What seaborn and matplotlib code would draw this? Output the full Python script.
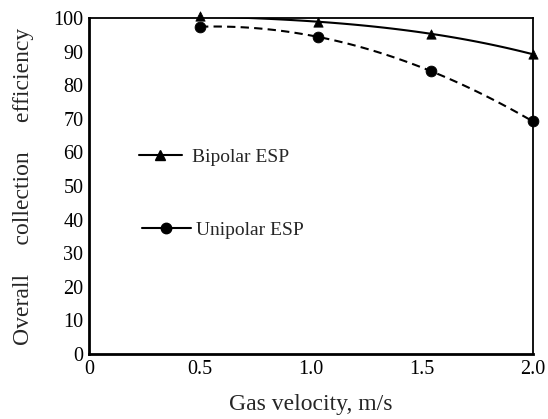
import matplotlib
matplotlib.use("Agg")
import matplotlib.pyplot as plt
import seaborn as sns
import pandas as pd
from matplotlib.lines import Line2D

velocity_bipolar = [0.5, 1.03, 1.54, 2.0]
eff_bipolar = [100.5, 98.9, 95.3, 89.2]
velocity_unipolar = [0.5, 1.03, 1.54, 2.0]
eff_unipolar = [97.4, 94.4, 84.2, 69.2]
x_ticks = [0, 0.5, 1.0, 1.5, 2.0]
x_tick_labels = ["0", "0.5", "1.0", "1.5", "2.0"]
y_ticks = [0, 10, 20, 30, 40, 50, 60, 70, 80, 90, 100]

sns.set_style("white")
plt.rcParams['font.family'] = ['Liberation Serif', 'DejaVu Serif']
plt.rcParams['mathtext.fontset'] = 'stix'

df_b = pd.DataFrame({"v": velocity_bipolar, "e": eff_bipolar})
df_u = pd.DataFrame({"v": velocity_unipolar, "e": eff_unipolar})

fig = plt.figure(figsize=(5.48, 4.19), dpi=100)
ax = fig.add_axes([89/548, 1-354/419, (533-89)/548, (354-18)/419])

sns.regplot(data=df_b, x="v", y="e", order=3, ci=None, scatter=False, ax=ax,
            line_kws=dict(color="black", lw=1.5, ls="-"))
sns.regplot(data=df_u, x="v", y="e", order=3, ci=None, scatter=False, ax=ax,
            line_kws=dict(color="black", lw=1.5, ls=(0, (4, 2.5))))
sns.scatterplot(data=df_b, x="v", y="e", marker="^", s=45, color="black",
                edgecolor="black", ax=ax, clip_on=False, zorder=5)
sns.scatterplot(data=df_u, x="v", y="e", marker="o", s=60, color="black",
                edgecolor="black", ax=ax, clip_on=False, zorder=5)

ax.set_xlim(0, 2.0)
ax.set_ylim(0, 100)
ax.set_xticks(x_ticks)
ax.set_xticklabels(x_tick_labels)
ax.set_yticks(y_ticks)
ax.tick_params(direction="in", length=7, width=1.5, labelsize=14.5, colors="black", pad=4)
for s in ["left", "bottom"]:
    ax.spines[s].set_linewidth(2)
for s in ["top", "right"]:
    ax.spines[s].set_linewidth(1.3)
for s in ax.spines.values():
    s.set_color("black")

ax.set_xlabel("Gas velocity, m/s", fontsize=17, labelpad=11)
ax.set_ylabel("Overall     collection     efficiency", fontsize=17, labelpad=14)

h_b = Line2D([], [], color="black", lw=1.5, marker="^", markersize=7)
h_u = Line2D([], [], color="black", lw=1.5, marker="o", markersize=7.5)
leg1 = ax.legend([h_b], ["Bipolar ESP"], loc="center left",
                 bbox_to_anchor=((139-89)/444, (354-157)/336), frameon=False, fontsize=14,
                 handlelength=2.2, handletextpad=0.5, borderpad=0, borderaxespad=0)
ax.add_artist(leg1)
ax.legend([h_u], ["Unipolar ESP"], loc="center left",
          bbox_to_anchor=((142-89)/444, (354-230)/336), frameon=False, fontsize=14,
          handlelength=2.5, handletextpad=0.3, borderpad=0, borderaxespad=0)

fig.savefig("out.png", dpi=100)
